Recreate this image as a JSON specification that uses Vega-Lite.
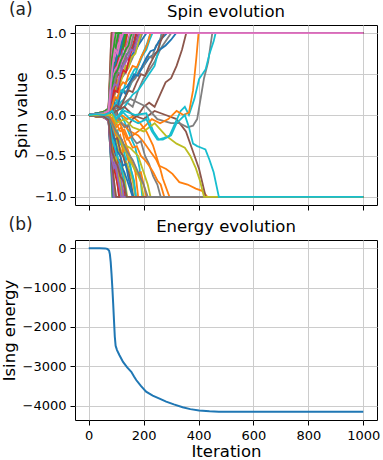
{
"$schema":"https://vega.github.io/schema/vega-lite/v6.json",
"padding":{"left":0,"top":1,"right":2,"bottom":0},
"spacing":5,
"config":{"font":"DejaVu Sans","view":{"stroke":"#000","strokeWidth":1},
"axis":{"labelFont":"DejaVu Sans","labelFontSize":13,"labelColor":"#000","titleFont":"DejaVu Sans","titleFontSize":16.5,"titleFontWeight":"normal","titleColor":"#000","tickColor":"#000","tickSize":5,"domain":false,"gridColor":"#cccccc","gridWidth":1,"labelPadding":4,"titlePadding":5},
"axisX":{"titlePadding":1},
"title":{"font":"DejaVu Sans","fontSize":16.5,"fontWeight":"normal","color":"#000","offset":5}},
"datasets":{
"energy":[{"i":0,"e":0},{"i":40,"e":0},{"i":60,"e":-5},{"i":68,"e":-20},{"i":74,"e":-60},{"i":77,"e":-150},{"i":80,"e":-350},{"i":83,"e":-650},{"i":86,"e":-1000},{"i":89,"e":-1400},{"i":92,"e":-1830},{"i":95,"e":-2250},{"i":98,"e":-2480},{"i":103,"e":-2590},{"i":112,"e":-2720},{"i":125,"e":-2890},{"i":140,"e":-3030},{"i":155,"e":-3140},{"i":165,"e":-3260},{"i":173,"e":-3350},{"i":190,"e":-3500},{"i":209,"e":-3645},{"i":233,"e":-3745},{"i":260,"e":-3830},{"i":282,"e":-3900},{"i":310,"e":-3970},{"i":342,"e":-4040},{"i":370,"e":-4090},{"i":402,"e":-4125},{"i":440,"e":-4145},{"i":474,"e":-4155},{"i":600,"e":-4158},{"i":800,"e":-4158},{"i":1000,"e":-4158}],
"spins":[
{"s":0,"i":0,"v":0},{"s":0,"i":30,"v":0.01},{"s":0,"i":55,"v":-0.02},{"s":0,"i":72,"v":0.04},{"s":0,"i":80,"v":0.3},{"s":0,"i":88,"v":1},{"s":0,"i":1000,"v":1},
{"s":1,"i":0,"v":0},{"s":1,"i":30,"v":0.02},{"s":1,"i":55,"v":0.04},{"s":1,"i":72,"v":0.08},{"s":1,"i":78,"v":0.5},{"s":1,"i":83,"v":1},{"s":1,"i":1000,"v":1},
{"s":2,"i":0,"v":0},{"s":2,"i":30,"v":-0.01},{"s":2,"i":55,"v":-0.03},{"s":2,"i":72,"v":-0.05},{"s":2,"i":80,"v":-0.5},{"s":2,"i":86,"v":-1},{"s":2,"i":1000,"v":-1},
{"s":3,"i":0,"v":0},{"s":3,"i":30,"v":-0.01},{"s":3,"i":55,"v":0.03},{"s":3,"i":72,"v":0.06},{"s":3,"i":82,"v":0.5},{"s":3,"i":87,"v":1},{"s":3,"i":1000,"v":1},
{"s":4,"i":0,"v":0},{"s":4,"i":30,"v":0.01},{"s":4,"i":55,"v":0},{"s":4,"i":72,"v":0.03},{"s":4,"i":85,"v":0.35},{"s":4,"i":92,"v":0.5},{"s":4,"i":100,"v":0.8},{"s":4,"i":106,"v":1},{"s":4,"i":1000,"v":1},
{"s":5,"i":0,"v":0},{"s":5,"i":30,"v":0.01},{"s":5,"i":55,"v":0.02},{"s":5,"i":72,"v":0.06},{"s":5,"i":80,"v":0.6},{"s":5,"i":84,"v":1},{"s":5,"i":1000,"v":1},
{"s":6,"i":0,"v":0},{"s":6,"i":30,"v":-0.02},{"s":6,"i":55,"v":0.01},{"s":6,"i":72,"v":0.03},{"s":6,"i":85,"v":0.7},{"s":6,"i":95,"v":0.85},{"s":6,"i":105,"v":1},{"s":6,"i":1000,"v":1},
{"s":7,"i":0,"v":0},{"s":7,"i":30,"v":0.02},{"s":7,"i":55,"v":-0.03},{"s":7,"i":72,"v":-0.06},{"s":7,"i":82,"v":-0.6},{"s":7,"i":88,"v":-1},{"s":7,"i":1000,"v":-1},
{"s":8,"i":0,"v":0},{"s":8,"i":30,"v":-0.01},{"s":8,"i":55,"v":0.02},{"s":8,"i":72,"v":-0.03},{"s":8,"i":85,"v":-0.5},{"s":8,"i":95,"v":-1},{"s":8,"i":1000,"v":-1},
{"s":9,"i":0,"v":0},{"s":9,"i":30,"v":0.01},{"s":9,"i":55,"v":-0.02},{"s":9,"i":72,"v":0},{"s":9,"i":85,"v":-0.1},{"s":9,"i":100,"v":-0.05},{"s":9,"i":115,"v":0.02},{"s":9,"i":130,"v":-0.08},{"s":9,"i":150,"v":-0.25},{"s":9,"i":170,"v":-0.4},{"s":9,"i":185,"v":-0.65},{"s":9,"i":195,"v":-1},{"s":9,"i":1000,"v":-1},
{"s":10,"i":0,"v":0},{"s":10,"i":30,"v":-0.02},{"s":10,"i":55,"v":-0.01},{"s":10,"i":72,"v":-0.05},{"s":10,"i":82,"v":-0.6},{"s":10,"i":90,"v":-1},{"s":10,"i":1000,"v":-1},
{"s":11,"i":0,"v":0},{"s":11,"i":30,"v":0},{"s":11,"i":55,"v":0.02},{"s":11,"i":72,"v":0.02},{"s":11,"i":85,"v":0.15},{"s":11,"i":100,"v":0.3},{"s":11,"i":115,"v":0.45},{"s":11,"i":130,"v":0.7},{"s":11,"i":140,"v":1},{"s":11,"i":1000,"v":1},
{"s":12,"i":0,"v":0},{"s":12,"i":30,"v":0.02},{"s":12,"i":55,"v":0.01},{"s":12,"i":72,"v":0.05},{"s":12,"i":85,"v":0.4},{"s":12,"i":100,"v":0.65},{"s":12,"i":110,"v":0.8},{"s":12,"i":120,"v":0.75},{"s":12,"i":130,"v":1},{"s":12,"i":1000,"v":1},
{"s":13,"i":0,"v":0},{"s":13,"i":30,"v":-0.01},{"s":13,"i":55,"v":0.03},{"s":13,"i":72,"v":0.04},{"s":13,"i":85,"v":0.6},{"s":13,"i":95,"v":0.75},{"s":13,"i":105,"v":0.7},{"s":13,"i":115,"v":0.9},{"s":13,"i":125,"v":0.85},{"s":13,"i":135,"v":1},{"s":13,"i":1000,"v":1},
{"s":14,"i":0,"v":0},{"s":14,"i":30,"v":0},{"s":14,"i":55,"v":-0.02},{"s":14,"i":72,"v":-0.07},{"s":14,"i":85,"v":-0.7},{"s":14,"i":92,"v":-1},{"s":14,"i":1000,"v":-1},
{"s":15,"i":0,"v":0},{"s":15,"i":30,"v":-0.01},{"s":15,"i":55,"v":-0.02},{"s":15,"i":72,"v":-0.04},{"s":15,"i":85,"v":-0.5},{"s":15,"i":100,"v":-0.7},{"s":15,"i":110,"v":-1},{"s":15,"i":1000,"v":-1},
{"s":16,"i":0,"v":0},{"s":16,"i":30,"v":0.01},{"s":16,"i":55,"v":0.03},{"s":16,"i":72,"v":0.05},{"s":16,"i":85,"v":0.5},{"s":16,"i":100,"v":0.75},{"s":16,"i":110,"v":0.7},{"s":16,"i":120,"v":0.95},{"s":16,"i":125,"v":1},{"s":16,"i":1000,"v":1},
{"s":17,"i":0,"v":0},{"s":17,"i":30,"v":0},{"s":17,"i":55,"v":0.01},{"s":17,"i":72,"v":0.02},{"s":17,"i":85,"v":0.2},{"s":17,"i":100,"v":0.3},{"s":17,"i":120,"v":0.45},{"s":17,"i":140,"v":0.55},{"s":17,"i":160,"v":0.7},{"s":17,"i":180,"v":0.85},{"s":17,"i":195,"v":1},{"s":17,"i":1000,"v":1},
{"s":18,"i":0,"v":0},{"s":18,"i":30,"v":-0.02},{"s":18,"i":55,"v":-0.01},{"s":18,"i":72,"v":-0.02},{"s":18,"i":85,"v":-0.2},{"s":18,"i":100,"v":-0.35},{"s":18,"i":115,"v":-0.5},{"s":18,"i":130,"v":-0.75},{"s":18,"i":140,"v":-1},{"s":18,"i":1000,"v":-1},
{"s":19,"i":0,"v":0},{"s":19,"i":30,"v":0.01},{"s":19,"i":55,"v":0.02},{"s":19,"i":72,"v":0.01},{"s":19,"i":85,"v":0.1},{"s":19,"i":100,"v":0},{"s":19,"i":115,"v":0.15},{"s":19,"i":130,"v":0.2},{"s":19,"i":150,"v":0.35},{"s":19,"i":170,"v":0.5},{"s":19,"i":190,"v":0.7},{"s":19,"i":210,"v":0.85},{"s":19,"i":225,"v":1},{"s":19,"i":1000,"v":1},
{"s":20,"i":0,"v":0},{"s":20,"i":30,"v":0.02},{"s":20,"i":55,"v":0},{"s":20,"i":72,"v":0.03},{"s":20,"i":85,"v":0.3},{"s":20,"i":100,"v":0.5},{"s":20,"i":120,"v":0.6},{"s":20,"i":140,"v":0.75},{"s":20,"i":160,"v":0.8},{"s":20,"i":175,"v":1},{"s":20,"i":1000,"v":1},
{"s":21,"i":0,"v":0},{"s":21,"i":30,"v":-0.01},{"s":21,"i":55,"v":0.01},{"s":21,"i":72,"v":-0.01},{"s":21,"i":85,"v":-0.05},{"s":21,"i":100,"v":-0.15},{"s":21,"i":115,"v":-0.1},{"s":21,"i":130,"v":-0.3},{"s":21,"i":150,"v":-0.5},{"s":21,"i":170,"v":-0.7},{"s":21,"i":180,"v":-1},{"s":21,"i":1000,"v":-1},
{"s":22,"i":0,"v":0},{"s":22,"i":30,"v":0},{"s":22,"i":55,"v":0.02},{"s":22,"i":72,"v":0.05},{"s":22,"i":85,"v":0.5},{"s":22,"i":95,"v":0.8},{"s":22,"i":105,"v":0.9},{"s":22,"i":112,"v":1},{"s":22,"i":1000,"v":1},
{"s":23,"i":0,"v":0},{"s":23,"i":30,"v":-0.02},{"s":23,"i":55,"v":-0.03},{"s":23,"i":72,"v":-0.04},{"s":23,"i":85,"v":-0.4},{"s":23,"i":100,"v":-0.6},{"s":23,"i":110,"v":-0.8},{"s":23,"i":118,"v":-1},{"s":23,"i":1000,"v":-1},
{"s":24,"i":0,"v":0},{"s":24,"i":30,"v":0.01},{"s":24,"i":55,"v":0.02},{"s":24,"i":72,"v":0.06},{"s":24,"i":85,"v":0.6},{"s":24,"i":95,"v":0.7},{"s":24,"i":105,"v":0.85},{"s":24,"i":115,"v":1},{"s":24,"i":1000,"v":1},
{"s":25,"i":0,"v":0},{"s":25,"i":30,"v":0.02},{"s":25,"i":55,"v":0.04},{"s":25,"i":72,"v":0.07},{"s":25,"i":80,"v":0.8},{"s":25,"i":84,"v":1},{"s":25,"i":1000,"v":1},
{"s":26,"i":0,"v":0},{"s":26,"i":30,"v":0},{"s":26,"i":55,"v":0.03},{"s":26,"i":72,"v":0.04},{"s":26,"i":85,"v":0.55},{"s":26,"i":100,"v":0.7},{"s":26,"i":115,"v":0.75},{"s":26,"i":130,"v":0.9},{"s":26,"i":140,"v":1},{"s":26,"i":1000,"v":1},
{"s":27,"i":0,"v":0},{"s":27,"i":30,"v":0.01},{"s":27,"i":55,"v":-0.01},{"s":27,"i":72,"v":-0.02},{"s":27,"i":85,"v":-0.1},{"s":27,"i":100,"v":-0.25},{"s":27,"i":120,"v":-0.3},{"s":27,"i":140,"v":-0.5},{"s":27,"i":160,"v":-0.75},{"s":27,"i":172,"v":-1},{"s":27,"i":1000,"v":-1},
{"s":28,"i":0,"v":0},{"s":28,"i":30,"v":-0.01},{"s":28,"i":55,"v":-0.02},{"s":28,"i":72,"v":-0.03},{"s":28,"i":85,"v":-0.3},{"s":28,"i":100,"v":-0.55},{"s":28,"i":115,"v":-0.8},{"s":28,"i":125,"v":-1},{"s":28,"i":1000,"v":-1},
{"s":29,"i":0,"v":0},{"s":29,"i":30,"v":0},{"s":29,"i":55,"v":-0.01},{"s":29,"i":72,"v":-0.03},{"s":29,"i":85,"v":-0.2},{"s":29,"i":95,"v":-0.4},{"s":29,"i":105,"v":-0.5},{"s":29,"i":115,"v":-0.75},{"s":29,"i":125,"v":-1},{"s":29,"i":1000,"v":-1},
{"s":30,"i":0,"v":0},{"s":30,"i":30,"v":0.01},{"s":30,"i":55,"v":0.01},{"s":30,"i":72,"v":0.02},{"s":30,"i":85,"v":0.2},{"s":30,"i":100,"v":0.35},{"s":30,"i":120,"v":0.5},{"s":30,"i":140,"v":0.6},{"s":30,"i":160,"v":0.75},{"s":30,"i":180,"v":0.85},{"s":30,"i":200,"v":0.95},{"s":30,"i":210,"v":1},{"s":30,"i":1000,"v":1},
{"s":31,"i":0,"v":0},{"s":31,"i":30,"v":0},{"s":31,"i":55,"v":-0.01},{"s":31,"i":72,"v":0.01},{"s":31,"i":85,"v":0.05},{"s":31,"i":100,"v":-0.05},{"s":31,"i":120,"v":0},{"s":31,"i":140,"v":-0.05},{"s":31,"i":160,"v":-0.02},{"s":31,"i":185,"v":-0.09},{"s":31,"i":210,"v":-0.2},{"s":31,"i":234,"v":-0.37},{"s":31,"i":257,"v":-0.62},{"s":31,"i":282,"v":-0.66},{"s":31,"i":305,"v":-0.72},{"s":31,"i":330,"v":-0.82},{"s":31,"i":360,"v":-0.85},{"s":31,"i":390,"v":-0.9},{"s":31,"i":415,"v":-0.93},{"s":31,"i":432,"v":-1},{"s":31,"i":1000,"v":-1},
{"s":32,"i":0,"v":0},{"s":32,"i":30,"v":0.02},{"s":32,"i":55,"v":0.03},{"s":32,"i":72,"v":0.04},{"s":32,"i":85,"v":0.3},{"s":32,"i":95,"v":0.55},{"s":32,"i":105,"v":0.7},{"s":32,"i":115,"v":0.8},{"s":32,"i":125,"v":0.95},{"s":32,"i":130,"v":1},{"s":32,"i":1000,"v":1},
{"s":33,"i":0,"v":0},{"s":33,"i":30,"v":0},{"s":33,"i":55,"v":0.02},{"s":33,"i":72,"v":0.05},{"s":33,"i":85,"v":0.45},{"s":33,"i":95,"v":0.6},{"s":33,"i":105,"v":0.75},{"s":33,"i":110,"v":0.9},{"s":33,"i":120,"v":1},{"s":33,"i":1000,"v":1},
{"s":34,"i":0,"v":0},{"s":34,"i":30,"v":-0.01},{"s":34,"i":55,"v":-0.02},{"s":34,"i":72,"v":-0.05},{"s":34,"i":85,"v":-0.3},{"s":34,"i":95,"v":-0.45},{"s":34,"i":110,"v":-0.65},{"s":34,"i":120,"v":-0.85},{"s":34,"i":130,"v":-1},{"s":34,"i":1000,"v":-1},
{"s":35,"i":0,"v":0},{"s":35,"i":30,"v":0.01},{"s":35,"i":55,"v":-0.01},{"s":35,"i":72,"v":0},{"s":35,"i":85,"v":0.1},{"s":35,"i":100,"v":0.05},{"s":35,"i":120,"v":-0.1},{"s":35,"i":140,"v":-0.15},{"s":35,"i":160,"v":-0.05},{"s":35,"i":180,"v":0},{"s":35,"i":200,"v":0.1},{"s":35,"i":220,"v":0.15},{"s":35,"i":240,"v":0.1},{"s":35,"i":260,"v":0.25},{"s":35,"i":280,"v":0.4},{"s":35,"i":300,"v":0.45},{"s":35,"i":320,"v":0.6},{"s":35,"i":340,"v":0.8},{"s":35,"i":355,"v":1},{"s":35,"i":1000,"v":1},
{"s":36,"i":0,"v":0},{"s":36,"i":30,"v":0.02},{"s":36,"i":55,"v":0.04},{"s":36,"i":72,"v":0.08},{"s":36,"i":85,"v":0.75},{"s":36,"i":90,"v":1},{"s":36,"i":1000,"v":1},
{"s":37,"i":0,"v":0},{"s":37,"i":30,"v":-0.01},{"s":37,"i":55,"v":0},{"s":37,"i":72,"v":0.01},{"s":37,"i":85,"v":0},{"s":37,"i":100,"v":-0.1},{"s":37,"i":120,"v":0.05},{"s":37,"i":140,"v":0.15},{"s":37,"i":160,"v":0.1},{"s":37,"i":180,"v":0.3},{"s":37,"i":200,"v":0.45},{"s":37,"i":220,"v":0.55},{"s":37,"i":240,"v":0.65},{"s":37,"i":260,"v":0.8},{"s":37,"i":280,"v":0.9},{"s":37,"i":300,"v":1},{"s":37,"i":1000,"v":1},
{"s":38,"i":0,"v":0},{"s":38,"i":30,"v":-0.02},{"s":38,"i":55,"v":-0.01},{"s":38,"i":72,"v":-0.04},{"s":38,"i":85,"v":-0.25},{"s":38,"i":100,"v":-0.3},{"s":38,"i":120,"v":-0.45},{"s":38,"i":140,"v":-0.6},{"s":38,"i":160,"v":-0.8},{"s":38,"i":170,"v":-1},{"s":38,"i":1000,"v":-1},
{"s":39,"i":0,"v":0},{"s":39,"i":30,"v":0.01},{"s":39,"i":55,"v":0},{"s":39,"i":72,"v":0.02},{"s":39,"i":85,"v":0.1},{"s":39,"i":100,"v":-0.1},{"s":39,"i":120,"v":0.05},{"s":39,"i":140,"v":0.15},{"s":39,"i":160,"v":0.25},{"s":39,"i":180,"v":0.3},{"s":39,"i":200,"v":0.4},{"s":39,"i":220,"v":0.5},{"s":39,"i":240,"v":0.6},{"s":39,"i":255,"v":0.8},{"s":39,"i":265,"v":1},{"s":39,"i":1000,"v":1},
{"s":40,"i":0,"v":0},{"s":40,"i":30,"v":0},{"s":40,"i":55,"v":0.02},{"s":40,"i":72,"v":0.01},{"s":40,"i":85,"v":0.15},{"s":40,"i":100,"v":0.2},{"s":40,"i":120,"v":0.3},{"s":40,"i":140,"v":0.35},{"s":40,"i":160,"v":0.45},{"s":40,"i":180,"v":0.5},{"s":40,"i":200,"v":0.6},{"s":40,"i":220,"v":0.7},{"s":40,"i":240,"v":0.75},{"s":40,"i":260,"v":0.8},{"s":40,"i":280,"v":0.85},{"s":40,"i":300,"v":0.92},{"s":40,"i":318,"v":1},{"s":40,"i":1000,"v":1},
{"s":41,"i":0,"v":0},{"s":41,"i":30,"v":-0.01},{"s":41,"i":55,"v":0.01},{"s":41,"i":72,"v":0},{"s":41,"i":85,"v":0.05},{"s":41,"i":100,"v":-0.05},{"s":41,"i":120,"v":-0.1},{"s":41,"i":150,"v":-0.2},{"s":41,"i":180,"v":-0.25},{"s":41,"i":200,"v":-0.33},{"s":41,"i":225,"v":-0.45},{"s":41,"i":245,"v":-0.54},{"s":41,"i":260,"v":-0.65},{"s":41,"i":270,"v":-0.78},{"s":41,"i":294,"v":-1},{"s":41,"i":1000,"v":-1},
{"s":42,"i":0,"v":0},{"s":42,"i":30,"v":0.01},{"s":42,"i":55,"v":0.02},{"s":42,"i":72,"v":0.03},{"s":42,"i":85,"v":0.45},{"s":42,"i":100,"v":0.6},{"s":42,"i":110,"v":0.8},{"s":42,"i":120,"v":0.85},{"s":42,"i":135,"v":1},{"s":42,"i":1000,"v":1},
{"s":43,"i":0,"v":0},{"s":43,"i":30,"v":-0.01},{"s":43,"i":55,"v":-0.03},{"s":43,"i":72,"v":-0.06},{"s":43,"i":85,"v":-0.55},{"s":43,"i":95,"v":-0.7},{"s":43,"i":105,"v":-0.85},{"s":43,"i":112,"v":-1},{"s":43,"i":1000,"v":-1},
{"s":44,"i":0,"v":0},{"s":44,"i":30,"v":0},{"s":44,"i":55,"v":0.01},{"s":44,"i":72,"v":0.03},{"s":44,"i":85,"v":0.35},{"s":44,"i":100,"v":0.55},{"s":44,"i":115,"v":0.65},{"s":44,"i":125,"v":0.8},{"s":44,"i":140,"v":1},{"s":44,"i":1000,"v":1},
{"s":45,"i":0,"v":0},{"s":45,"i":30,"v":0},{"s":45,"i":55,"v":0.01},{"s":45,"i":72,"v":-0.01},{"s":45,"i":85,"v":0},{"s":45,"i":100,"v":0.05},{"s":45,"i":130,"v":0.1},{"s":45,"i":160,"v":0},{"s":45,"i":200,"v":-0.05},{"s":45,"i":240,"v":0.05},{"s":45,"i":280,"v":0},{"s":45,"i":320,"v":-0.05},{"s":45,"i":354,"v":-0.2},{"s":45,"i":380,"v":-0.45},{"s":45,"i":402,"v":-0.66},{"s":45,"i":426,"v":-1},{"s":45,"i":1000,"v":-1},
{"s":46,"i":0,"v":0},{"s":46,"i":30,"v":0.01},{"s":46,"i":55,"v":0.02},{"s":46,"i":72,"v":0.02},{"s":46,"i":85,"v":0.25},{"s":46,"i":100,"v":0.45},{"s":46,"i":115,"v":0.6},{"s":46,"i":130,"v":0.75},{"s":46,"i":150,"v":0.85},{"s":46,"i":165,"v":1},{"s":46,"i":1000,"v":1},
{"s":47,"i":0,"v":0},{"s":47,"i":30,"v":0},{"s":47,"i":55,"v":-0.01},{"s":47,"i":72,"v":0.01},{"s":47,"i":85,"v":0.05},{"s":47,"i":110,"v":0.1},{"s":47,"i":150,"v":0.2},{"s":47,"i":180,"v":0.15},{"s":47,"i":210,"v":0.1},{"s":47,"i":250,"v":-0.05},{"s":47,"i":300,"v":-0.1},{"s":47,"i":330,"v":-0.1},{"s":47,"i":360,"v":-0.15},{"s":47,"i":380,"v":-0.13},{"s":47,"i":395,"v":-0.05},{"s":47,"i":420,"v":0.45},{"s":47,"i":435,"v":0.65},{"s":47,"i":450,"v":1},{"s":47,"i":1000,"v":1},
{"s":48,"i":0,"v":0},{"s":48,"i":30,"v":-0.01},{"s":48,"i":55,"v":0},{"s":48,"i":72,"v":-0.02},{"s":48,"i":85,"v":-0.15},{"s":48,"i":100,"v":-0.2},{"s":48,"i":120,"v":-0.35},{"s":48,"i":150,"v":-0.4},{"s":48,"i":180,"v":-0.5},{"s":48,"i":200,"v":-0.7},{"s":48,"i":215,"v":-0.85},{"s":48,"i":225,"v":-1},{"s":48,"i":1000,"v":-1},
{"s":49,"i":0,"v":0},{"s":49,"i":30,"v":0.01},{"s":49,"i":55,"v":-0.01},{"s":49,"i":72,"v":0.02},{"s":49,"i":85,"v":0},{"s":49,"i":100,"v":-0.05},{"s":49,"i":130,"v":0.05},{"s":49,"i":170,"v":0},{"s":49,"i":210,"v":0.02},{"s":49,"i":235,"v":-0.2},{"s":49,"i":255,"v":-0.3},{"s":49,"i":275,"v":-0.28},{"s":49,"i":295,"v":-0.25},{"s":49,"i":315,"v":-0.1},{"s":49,"i":335,"v":0.05},{"s":49,"i":350,"v":0.1},{"s":49,"i":365,"v":0},{"s":49,"i":385,"v":0.2},{"s":49,"i":402,"v":0.44},{"s":49,"i":426,"v":0.56},{"s":49,"i":440,"v":0.75},{"s":49,"i":455,"v":0.9},{"s":49,"i":462,"v":1},{"s":49,"i":1000,"v":1},
{"s":50,"i":0,"v":0},{"s":50,"i":30,"v":-0.01},{"s":50,"i":55,"v":-0.02},{"s":50,"i":72,"v":-0.03},{"s":50,"i":85,"v":-0.35},{"s":50,"i":100,"v":-0.5},{"s":50,"i":115,"v":-0.6},{"s":50,"i":130,"v":-0.7},{"s":50,"i":145,"v":-0.85},{"s":50,"i":160,"v":-1},{"s":50,"i":1000,"v":-1},
{"s":51,"i":0,"v":0},{"s":51,"i":30,"v":0.01},{"s":51,"i":55,"v":0},{"s":51,"i":72,"v":-0.02},{"s":51,"i":85,"v":-0.05},{"s":51,"i":100,"v":-0.2},{"s":51,"i":120,"v":-0.15},{"s":51,"i":140,"v":-0.3},{"s":51,"i":160,"v":-0.25},{"s":51,"i":180,"v":-0.2},{"s":51,"i":200,"v":-0.15},{"s":51,"i":230,"v":-0.05},{"s":51,"i":260,"v":-0.1},{"s":51,"i":290,"v":-0.05},{"s":51,"i":320,"v":0.05},{"s":51,"i":345,"v":0},{"s":51,"i":365,"v":0.03},{"s":51,"i":380,"v":0.3},{"s":51,"i":392,"v":0.7},{"s":51,"i":400,"v":1},{"s":51,"i":1000,"v":1},
{"s":52,"i":0,"v":0},{"s":52,"i":30,"v":0.02},{"s":52,"i":55,"v":0.02},{"s":52,"i":72,"v":0.06},{"s":52,"i":85,"v":0.6},{"s":52,"i":90,"v":0.8},{"s":52,"i":98,"v":1},{"s":52,"i":1000,"v":1},
{"s":53,"i":0,"v":0},{"s":53,"i":30,"v":0},{"s":53,"i":55,"v":0.01},{"s":53,"i":72,"v":0.04},{"s":53,"i":85,"v":0.4},{"s":53,"i":95,"v":0.55},{"s":53,"i":110,"v":0.7},{"s":53,"i":120,"v":0.8},{"s":53,"i":130,"v":0.85},{"s":53,"i":140,"v":1},{"s":53,"i":1000,"v":1},
{"s":54,"i":0,"v":0},{"s":54,"i":30,"v":-0.02},{"s":54,"i":55,"v":-0.02},{"s":54,"i":72,"v":-0.05},{"s":54,"i":85,"v":-0.45},{"s":54,"i":95,"v":-0.6},{"s":54,"i":105,"v":-0.75},{"s":54,"i":115,"v":-0.9},{"s":54,"i":125,"v":-1},{"s":54,"i":1000,"v":-1},
{"s":55,"i":0,"v":0},{"s":55,"i":30,"v":-0.01},{"s":55,"i":55,"v":-0.03},{"s":55,"i":72,"v":-0.07},{"s":55,"i":85,"v":-0.6},{"s":55,"i":92,"v":-0.8},{"s":55,"i":100,"v":-1},{"s":55,"i":1000,"v":-1},
{"s":56,"i":0,"v":0},{"s":56,"i":30,"v":-0.01},{"s":56,"i":55,"v":0.02},{"s":56,"i":72,"v":0.03},{"s":56,"i":85,"v":0.3},{"s":56,"i":95,"v":0.45},{"s":56,"i":105,"v":0.4},{"s":56,"i":115,"v":0.55},{"s":56,"i":125,"v":0.5},{"s":56,"i":135,"v":0.65},{"s":56,"i":145,"v":0.7},{"s":56,"i":155,"v":0.8},{"s":56,"i":165,"v":0.78},{"s":56,"i":175,"v":0.9},{"s":56,"i":182,"v":1},{"s":56,"i":1000,"v":1},
{"s":57,"i":0,"v":0},{"s":57,"i":30,"v":0.01},{"s":57,"i":55,"v":0},{"s":57,"i":72,"v":0.02},{"s":57,"i":85,"v":0.1},{"s":57,"i":95,"v":0.2},{"s":57,"i":105,"v":0.15},{"s":57,"i":115,"v":0.25},{"s":57,"i":125,"v":0.3},{"s":57,"i":140,"v":0.28},{"s":57,"i":155,"v":0.4},{"s":57,"i":170,"v":0.45},{"s":57,"i":185,"v":0.55},{"s":57,"i":200,"v":0.6},{"s":57,"i":215,"v":0.72},{"s":57,"i":230,"v":0.7},{"s":57,"i":245,"v":0.85},{"s":57,"i":255,"v":0.88},{"s":57,"i":268,"v":1},{"s":57,"i":1000,"v":1},
{"s":58,"i":0,"v":0},{"s":58,"i":30,"v":0},{"s":58,"i":55,"v":0.02},{"s":58,"i":72,"v":0.04},{"s":58,"i":85,"v":0.2},{"s":58,"i":95,"v":0.3},{"s":58,"i":105,"v":0.42},{"s":58,"i":115,"v":0.38},{"s":58,"i":125,"v":0.5},{"s":58,"i":135,"v":0.6},{"s":58,"i":145,"v":0.58},{"s":58,"i":155,"v":0.7},{"s":58,"i":170,"v":0.75},{"s":58,"i":180,"v":0.88},{"s":58,"i":190,"v":1},{"s":58,"i":1000,"v":1},
{"s":59,"i":0,"v":0},{"s":59,"i":30,"v":-0.01},{"s":59,"i":55,"v":-0.02},{"s":59,"i":72,"v":-0.02},{"s":59,"i":85,"v":-0.15},{"s":59,"i":95,"v":-0.25},{"s":59,"i":105,"v":-0.2},{"s":59,"i":115,"v":-0.35},{"s":59,"i":125,"v":-0.4},{"s":59,"i":135,"v":-0.55},{"s":59,"i":145,"v":-0.5},{"s":59,"i":155,"v":-0.68},{"s":59,"i":165,"v":-0.8},{"s":59,"i":172,"v":-1},{"s":59,"i":1000,"v":-1},
{"s":60,"i":0,"v":0},{"s":60,"i":30,"v":0.01},{"s":60,"i":55,"v":-0.01},{"s":60,"i":72,"v":0.01},{"s":60,"i":85,"v":0.05},{"s":60,"i":95,"v":0.15},{"s":60,"i":105,"v":0.1},{"s":60,"i":115,"v":0.22},{"s":60,"i":125,"v":0.3},{"s":60,"i":135,"v":0.25},{"s":60,"i":150,"v":0.4},{"s":60,"i":165,"v":0.5},{"s":60,"i":180,"v":0.48},{"s":60,"i":195,"v":0.6},{"s":60,"i":210,"v":0.7},{"s":60,"i":225,"v":0.78},{"s":60,"i":240,"v":0.8},{"s":60,"i":255,"v":0.9},{"s":60,"i":270,"v":0.95},{"s":60,"i":285,"v":1},{"s":60,"i":1000,"v":1},
{"s":61,"i":0,"v":0},{"s":61,"i":30,"v":-0.01},{"s":61,"i":55,"v":0.01},{"s":61,"i":72,"v":-0.02},{"s":61,"i":85,"v":-0.1},{"s":61,"i":95,"v":-0.2},{"s":61,"i":105,"v":-0.3},{"s":61,"i":115,"v":-0.25},{"s":61,"i":125,"v":-0.45},{"s":61,"i":135,"v":-0.4},{"s":61,"i":145,"v":-0.55},{"s":61,"i":160,"v":-0.6},{"s":61,"i":175,"v":-0.72},{"s":61,"i":190,"v":-0.7},{"s":61,"i":200,"v":-0.85},{"s":61,"i":210,"v":-1},{"s":61,"i":1000,"v":-1},
{"s":62,"i":0,"v":0},{"s":62,"i":30,"v":0.02},{"s":62,"i":55,"v":0.03},{"s":62,"i":72,"v":0.06},{"s":62,"i":85,"v":0.55},{"s":62,"i":90,"v":0.65},{"s":62,"i":97,"v":0.62},{"s":62,"i":104,"v":0.75},{"s":62,"i":110,"v":0.72},{"s":62,"i":118,"v":0.85},{"s":62,"i":125,"v":0.82},{"s":62,"i":132,"v":0.95},{"s":62,"i":136,"v":1},{"s":62,"i":1000,"v":1},
{"s":63,"i":0,"v":0},{"s":63,"i":30,"v":-0.02},{"s":63,"i":55,"v":-0.01},{"s":63,"i":72,"v":-0.05},{"s":63,"i":85,"v":-0.35},{"s":63,"i":92,"v":-0.45},{"s":63,"i":99,"v":-0.42},{"s":63,"i":106,"v":-0.58},{"s":63,"i":113,"v":-0.55},{"s":63,"i":120,"v":-0.7},{"s":63,"i":128,"v":-0.85},{"s":63,"i":134,"v":-1},{"s":63,"i":1000,"v":-1},
{"s":64,"i":0,"v":0},{"s":64,"i":30,"v":0},{"s":64,"i":55,"v":0.02},{"s":64,"i":72,"v":0.04},{"s":64,"i":85,"v":0.4},{"s":64,"i":92,"v":0.5},{"s":64,"i":99,"v":0.48},{"s":64,"i":106,"v":0.6},{"s":64,"i":113,"v":0.58},{"s":64,"i":120,"v":0.7},{"s":64,"i":128,"v":0.68},{"s":64,"i":136,"v":0.82},{"s":64,"i":143,"v":0.9},{"s":64,"i":150,"v":1},{"s":64,"i":1000,"v":1},
{"s":65,"i":0,"v":0},{"s":65,"i":30,"v":0.01},{"s":65,"i":55,"v":-0.02},{"s":65,"i":72,"v":-0.03},{"s":65,"i":85,"v":-0.2},{"s":65,"i":95,"v":-0.3},{"s":65,"i":105,"v":-0.28},{"s":65,"i":115,"v":-0.45},{"s":65,"i":125,"v":-0.5},{"s":65,"i":135,"v":-0.62},{"s":65,"i":145,"v":-0.7},{"s":65,"i":155,"v":-0.85},{"s":65,"i":162,"v":-1},{"s":65,"i":1000,"v":-1},
{"s":66,"i":0,"v":0},{"s":66,"i":30,"v":0.02},{"s":66,"i":55,"v":0.03},{"s":66,"i":72,"v":0.07},{"s":66,"i":85,"v":0.65},{"s":66,"i":92,"v":0.75},{"s":66,"i":99,"v":0.72},{"s":66,"i":106,"v":0.85},{"s":66,"i":112,"v":0.9},{"s":66,"i":118,"v":1},{"s":66,"i":1000,"v":1},
{"s":67,"i":0,"v":0},{"s":67,"i":30,"v":0},{"s":67,"i":55,"v":-0.01},{"s":67,"i":72,"v":-0.01},{"s":67,"i":85,"v":-0.05},{"s":67,"i":100,"v":0.02},{"s":67,"i":115,"v":-0.08},{"s":67,"i":130,"v":-0.15},{"s":67,"i":145,"v":-0.12},{"s":67,"i":160,"v":-0.28},{"s":67,"i":175,"v":-0.35},{"s":67,"i":190,"v":-0.32},{"s":67,"i":205,"v":-0.5},{"s":67,"i":220,"v":-0.6},{"s":67,"i":235,"v":-0.75},{"s":67,"i":250,"v":-0.85},{"s":67,"i":262,"v":-1},{"s":67,"i":1000,"v":-1},
{"s":68,"i":0,"v":0},{"s":68,"i":30,"v":-0.02},{"s":68,"i":55,"v":-0.03},{"s":68,"i":72,"v":-0.06},{"s":68,"i":85,"v":-0.4},{"s":68,"i":92,"v":-0.55},{"s":68,"i":99,"v":-0.52},{"s":68,"i":106,"v":-0.68},{"s":68,"i":113,"v":-0.8},{"s":68,"i":120,"v":-1},{"s":68,"i":1000,"v":-1},
{"s":69,"i":0,"v":0},{"s":69,"i":30,"v":0.01},{"s":69,"i":55,"v":0.01},{"s":69,"i":72,"v":0.03},{"s":69,"i":85,"v":0.15},{"s":69,"i":95,"v":0.1},{"s":69,"i":105,"v":0.2},{"s":69,"i":115,"v":0.3},{"s":69,"i":125,"v":0.28},{"s":69,"i":135,"v":0.4},{"s":69,"i":150,"v":0.45},{"s":69,"i":165,"v":0.55},{"s":69,"i":180,"v":0.6},{"s":69,"i":195,"v":0.72},{"s":69,"i":210,"v":0.8},{"s":69,"i":222,"v":0.92},{"s":69,"i":232,"v":1},{"s":69,"i":1000,"v":1},
{"s":70,"i":0,"v":0},{"s":70,"i":30,"v":-0.01},{"s":70,"i":55,"v":-0.02},{"s":70,"i":72,"v":-0.04},{"s":70,"i":85,"v":-0.25},{"s":70,"i":95,"v":-0.3},{"s":70,"i":105,"v":-0.45},{"s":70,"i":115,"v":-0.5},{"s":70,"i":125,"v":-0.62},{"s":70,"i":135,"v":-0.6},{"s":70,"i":145,"v":-0.78},{"s":70,"i":155,"v":-0.9},{"s":70,"i":162,"v":-1},{"s":70,"i":1000,"v":-1},
{"s":71,"i":0,"v":0},{"s":71,"i":30,"v":0.01},{"s":71,"i":55,"v":0},{"s":71,"i":72,"v":0.02},{"s":71,"i":85,"v":0.1},{"s":71,"i":95,"v":0.22},{"s":71,"i":105,"v":0.2},{"s":71,"i":115,"v":0.35},{"s":71,"i":125,"v":0.4},{"s":71,"i":135,"v":0.38},{"s":71,"i":145,"v":0.5},{"s":71,"i":160,"v":0.6},{"s":71,"i":175,"v":0.58},{"s":71,"i":190,"v":0.7},{"s":71,"i":205,"v":0.8},{"s":71,"i":215,"v":0.88},{"s":71,"i":225,"v":1},{"s":71,"i":1000,"v":1},
{"s":72,"i":0,"v":0},{"s":72,"i":30,"v":0.02},{"s":72,"i":55,"v":0.04},{"s":72,"i":72,"v":0.08},{"s":72,"i":85,"v":0.7},{"s":72,"i":90,"v":0.8},{"s":72,"i":96,"v":0.78},{"s":72,"i":102,"v":0.9},{"s":72,"i":108,"v":1},{"s":72,"i":1000,"v":1},
{"s":73,"i":0,"v":0},{"s":73,"i":30,"v":0},{"s":73,"i":55,"v":0.02},{"s":73,"i":72,"v":0.03},{"s":73,"i":85,"v":0.25},{"s":73,"i":95,"v":0.35},{"s":73,"i":105,"v":0.5},{"s":73,"i":115,"v":0.48},{"s":73,"i":125,"v":0.62},{"s":73,"i":135,"v":0.7},{"s":73,"i":145,"v":0.68},{"s":73,"i":155,"v":0.8},{"s":73,"i":165,"v":0.9},{"s":73,"i":172,"v":1},{"s":73,"i":1000,"v":1},
{"s":74,"i":0,"v":0},{"s":74,"i":30,"v":-0.01},{"s":74,"i":55,"v":-0.03},{"s":74,"i":72,"v":-0.07},{"s":74,"i":85,"v":-0.55},{"s":74,"i":92,"v":-0.65},{"s":74,"i":99,"v":-0.62},{"s":74,"i":106,"v":-0.78},{"s":74,"i":113,"v":-0.9},{"s":74,"i":118,"v":-1},{"s":74,"i":1000,"v":-1},
{"s":75,"i":0,"v":0},{"s":75,"i":30,"v":0},{"s":75,"i":55,"v":0.01},{"s":75,"i":72,"v":0},{"s":75,"i":85,"v":0.05},{"s":75,"i":100,"v":0.12},{"s":75,"i":115,"v":0.08},{"s":75,"i":130,"v":0.2},{"s":75,"i":145,"v":0.3},{"s":75,"i":160,"v":0.28},{"s":75,"i":175,"v":0.4},{"s":75,"i":190,"v":0.5},{"s":75,"i":205,"v":0.48},{"s":75,"i":220,"v":0.6},{"s":75,"i":235,"v":0.7},{"s":75,"i":250,"v":0.78},{"s":75,"i":262,"v":0.9},{"s":75,"i":275,"v":1},{"s":75,"i":1000,"v":1},
{"s":76,"i":0,"v":0},{"s":76,"i":30,"v":0.01},{"s":76,"i":55,"v":0.03},{"s":76,"i":72,"v":0.05},{"s":76,"i":85,"v":0.45},{"s":76,"i":95,"v":0.55},{"s":76,"i":105,"v":0.6},{"s":76,"i":115,"v":0.7},{"s":76,"i":125,"v":0.68},{"s":76,"i":135,"v":0.8},{"s":76,"i":145,"v":0.88},{"s":76,"i":152,"v":1},{"s":76,"i":1000,"v":1},
{"s":77,"i":0,"v":0},{"s":77,"i":30,"v":0},{"s":77,"i":55,"v":0.01},{"s":77,"i":72,"v":0.04},{"s":77,"i":85,"v":0.35},{"s":77,"i":95,"v":0.4},{"s":77,"i":105,"v":0.52},{"s":77,"i":115,"v":0.5},{"s":77,"i":125,"v":0.62},{"s":77,"i":135,"v":0.7},{"s":77,"i":145,"v":0.78},{"s":77,"i":155,"v":0.85},{"s":77,"i":165,"v":1},{"s":77,"i":1000,"v":1},
{"s":78,"i":0,"v":0},{"s":78,"i":30,"v":-0.01},{"s":78,"i":55,"v":0},{"s":78,"i":72,"v":-0.02},{"s":78,"i":85,"v":-0.1},{"s":78,"i":95,"v":-0.15},{"s":78,"i":105,"v":-0.25},{"s":78,"i":115,"v":-0.3},{"s":78,"i":130,"v":-0.42},{"s":78,"i":145,"v":-0.5},{"s":78,"i":160,"v":-0.62},{"s":78,"i":175,"v":-0.7},{"s":78,"i":190,"v":-0.82},{"s":78,"i":200,"v":-1},{"s":78,"i":1000,"v":-1},
{"s":79,"i":0,"v":0},{"s":79,"i":30,"v":0.01},{"s":79,"i":55,"v":-0.02},{"s":79,"i":72,"v":-0.04},{"s":79,"i":85,"v":-0.3},{"s":79,"i":95,"v":-0.4},{"s":79,"i":105,"v":-0.52},{"s":79,"i":115,"v":-0.6},{"s":79,"i":125,"v":-0.75},{"s":79,"i":132,"v":-0.88},{"s":79,"i":138,"v":-1},{"s":79,"i":1000,"v":-1},
{"s":80,"i":0,"v":0},{"s":80,"i":30,"v":0.02},{"s":80,"i":55,"v":0.02},{"s":80,"i":72,"v":0.05},{"s":80,"i":85,"v":0.5},{"s":80,"i":92,"v":0.6},{"s":80,"i":99,"v":0.65},{"s":80,"i":106,"v":0.78},{"s":80,"i":113,"v":0.75},{"s":80,"i":120,"v":0.88},{"s":80,"i":126,"v":1},{"s":80,"i":1000,"v":1},
{"s":81,"i":0,"v":0},{"s":81,"i":30,"v":0},{"s":81,"i":55,"v":-0.01},{"s":81,"i":72,"v":0},{"s":81,"i":85,"v":-0.05},{"s":81,"i":100,"v":-0.1},{"s":81,"i":115,"v":-0.2},{"s":81,"i":130,"v":-0.18},{"s":81,"i":145,"v":-0.3},{"s":81,"i":160,"v":-0.4},{"s":81,"i":175,"v":-0.38},{"s":81,"i":190,"v":-0.5},{"s":81,"i":205,"v":-0.55},{"s":81,"i":220,"v":-0.62},{"s":81,"i":235,"v":-0.7},{"s":81,"i":250,"v":-0.8},{"s":81,"i":262,"v":-0.85},{"s":81,"i":275,"v":-1},{"s":81,"i":1000,"v":-1},
{"s":82,"i":0,"v":0},{"s":82,"i":30,"v":0.01},{"s":82,"i":55,"v":0.02},{"s":82,"i":72,"v":0.03},{"s":82,"i":85,"v":0.35},{"s":82,"i":95,"v":0.5},{"s":82,"i":105,"v":0.55},{"s":82,"i":115,"v":0.65},{"s":82,"i":125,"v":0.72},{"s":82,"i":135,"v":0.8},{"s":82,"i":145,"v":0.85},{"s":82,"i":152,"v":0.95},{"s":82,"i":158,"v":1},{"s":82,"i":1000,"v":1},
{"s":83,"i":0,"v":0},{"s":83,"i":30,"v":-0.01},{"s":83,"i":55,"v":0.01},{"s":83,"i":72,"v":0.03},{"s":83,"i":85,"v":0.2},{"s":83,"i":95,"v":0.3},{"s":83,"i":105,"v":0.28},{"s":83,"i":115,"v":0.45},{"s":83,"i":125,"v":0.55},{"s":83,"i":135,"v":0.52},{"s":83,"i":145,"v":0.65},{"s":83,"i":155,"v":0.78},{"s":83,"i":165,"v":0.8},{"s":83,"i":175,"v":0.92},{"s":83,"i":182,"v":1},{"s":83,"i":1000,"v":1},
{"s":84,"i":0,"v":0},{"s":84,"i":30,"v":0.01},{"s":84,"i":55,"v":0.01},{"s":84,"i":72,"v":0.02},{"s":84,"i":85,"v":0.3},{"s":84,"i":95,"v":0.38},{"s":84,"i":105,"v":0.35},{"s":84,"i":115,"v":0.5},{"s":84,"i":125,"v":0.6},{"s":84,"i":135,"v":0.65},{"s":84,"i":145,"v":0.72},{"s":84,"i":155,"v":0.8},{"s":84,"i":165,"v":0.78},{"s":84,"i":175,"v":0.9},{"s":84,"i":185,"v":1},{"s":84,"i":1000,"v":1},
{"s":85,"i":0,"v":0},{"s":85,"i":30,"v":-0.02},{"s":85,"i":55,"v":-0.02},{"s":85,"i":72,"v":-0.06},{"s":85,"i":85,"v":-0.45},{"s":85,"i":95,"v":-0.55},{"s":85,"i":105,"v":-0.62},{"s":85,"i":115,"v":-0.75},{"s":85,"i":125,"v":-0.8},{"s":85,"i":132,"v":-0.9},{"s":85,"i":138,"v":-1},{"s":85,"i":1000,"v":-1},
{"s":86,"i":0,"v":0},{"s":86,"i":30,"v":0.01},{"s":86,"i":55,"v":0.02},{"s":86,"i":72,"v":0.05},{"s":86,"i":85,"v":0.55},{"s":86,"i":95,"v":0.8},{"s":86,"i":105,"v":0.75},{"s":86,"i":115,"v":0.9},{"s":86,"i":125,"v":1},{"s":86,"i":1000,"v":1},
{"s":87,"i":0,"v":0},{"s":87,"i":30,"v":-0.01},{"s":87,"i":55,"v":0},{"s":87,"i":72,"v":-0.02},{"s":87,"i":85,"v":-0.1},{"s":87,"i":100,"v":-0.2},{"s":87,"i":120,"v":-0.3},{"s":87,"i":140,"v":-0.45},{"s":87,"i":160,"v":-0.55},{"s":87,"i":180,"v":-0.7},{"s":87,"i":200,"v":-0.85},{"s":87,"i":215,"v":-1},{"s":87,"i":1000,"v":-1},
{"s":88,"i":0,"v":0},{"s":88,"i":30,"v":0},{"s":88,"i":55,"v":0.01},{"s":88,"i":72,"v":0},{"s":88,"i":85,"v":0},{"s":88,"i":100,"v":-0.1},{"s":88,"i":130,"v":-0.05},{"s":88,"i":160,"v":-0.15},{"s":88,"i":200,"v":-0.2},{"s":88,"i":240,"v":-0.1},{"s":88,"i":280,"v":-0.25},{"s":88,"i":320,"v":-0.35},{"s":88,"i":350,"v":-0.4},{"s":88,"i":370,"v":-0.5},{"s":88,"i":390,"v":-0.65},{"s":88,"i":405,"v":-0.8},{"s":88,"i":420,"v":-1},{"s":88,"i":1000,"v":-1},
{"s":89,"i":0,"v":0},{"s":89,"i":30,"v":0.01},{"s":89,"i":55,"v":0},{"s":89,"i":72,"v":0.02},{"s":89,"i":85,"v":0.05},{"s":89,"i":100,"v":-0.05},{"s":89,"i":120,"v":0.05},{"s":89,"i":150,"v":-0.05},{"s":89,"i":180,"v":-0.1},{"s":89,"i":210,"v":-0.05},{"s":89,"i":230,"v":-0.2},{"s":89,"i":250,"v":-0.3},{"s":89,"i":270,"v":-0.3},{"s":89,"i":300,"v":-0.25},{"s":89,"i":320,"v":-0.1},{"s":89,"i":335,"v":-0.05},{"s":89,"i":350,"v":0},{"s":89,"i":365,"v":-0.15},{"s":89,"i":380,"v":-0.35},{"s":89,"i":395,"v":-0.38},{"s":89,"i":410,"v":-0.4},{"s":89,"i":425,"v":-0.42},{"s":89,"i":440,"v":-0.55},{"s":89,"i":455,"v":-0.7},{"s":89,"i":474,"v":-1},{"s":89,"i":1000,"v":-1}
]},
"vconcat":[
{"title":{"text":"(a)","anchor":"start","frame":"bounds","offset":-16,"fontSize":17,"color":"#222","dx":-4},
 "vconcat":[{
  "width":302,"height":180,
  "title":"Spin evolution",
  "data":{"name":"spins"},
  "mark":{"type":"line","strokeWidth":1.8,"clip":true},
  "encoding":{
   "x":{"field":"i","type":"quantitative","scale":{"domain":[-50,1050],"nice":false,"zero":false},"axis":{"values":[0,200,400,600,800,1000],"labels":false,"title":null}},
   "y":{"field":"v","type":"quantitative","scale":{"domain":[-1.1,1.1],"nice":false,"zero":false},"axis":{"values":[-1,-0.5,0,0.5,1],"format":".1f","title":"Spin value"}},
   "color":{"field":"s","type":"nominal","scale":{"scheme":"category10"},"legend":null}
  }
 }]},
{"title":{"text":"(b)","anchor":"start","frame":"bounds","offset":-16,"fontSize":17,"color":"#222","dx":8},
 "vconcat":[{
  "width":302,"height":180,
  "title":"Energy evolution",
  "data":{"name":"energy"},
  "mark":{"type":"line","strokeWidth":2,"color":"#1f77b4","clip":true},
  "encoding":{
   "x":{"field":"i","type":"quantitative","scale":{"domain":[-50,1050],"nice":false,"zero":false},"axis":{"values":[0,200,400,600,800,1000],"format":"d","title":"Iteration"}},
   "y":{"field":"e","type":"quantitative","scale":{"domain":[-4365.9,207.9],"nice":false,"zero":false},"axis":{"values":[-4000,-3000,-2000,-1000,0],"format":"d","title":"Ising energy"}}
  }
 }]}
]
}
